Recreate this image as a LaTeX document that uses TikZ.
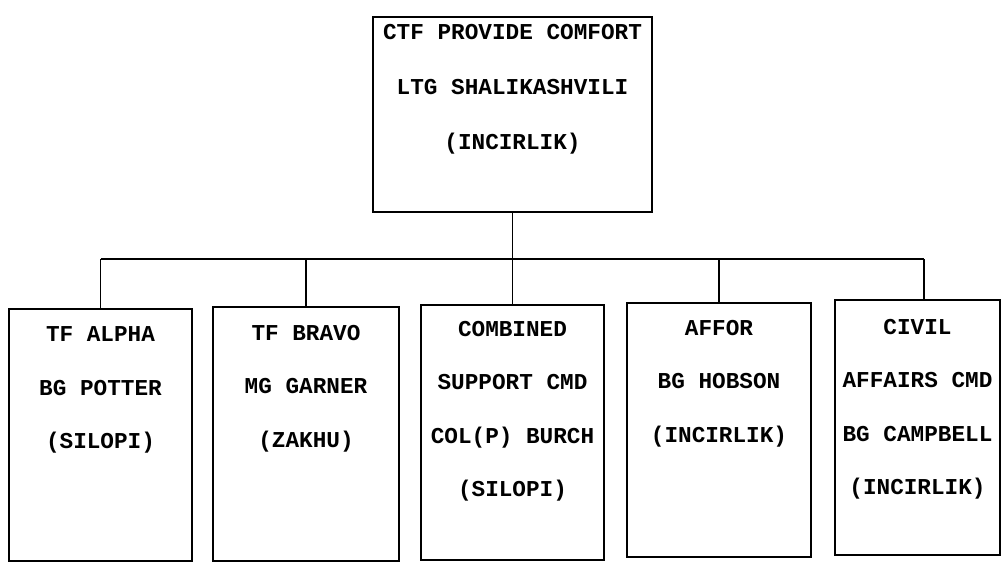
\documentclass[tikz,border=0pt]{standalone}
\usepackage{fontspec}
\newfontfamily\chartfont{Liberation Mono}
\usetikzlibrary{positioning}

\tikzset{
  unit/.style={draw, line width=2.4pt, inner sep=0pt},
  unittext/.style={font=\chartfont\bfseries\fontsize{22.7}{53.5}\selectfont, align=center, anchor=north, inner sep=0pt},
  link/.style={line width=1.5pt}
}

\begin{document}
\begin{tikzpicture}[x=1pt,y=-1pt]
\useasboundingbox (0,0) rectangle (1005,562);

% Commander
\node[unit, minimum width=279pt, minimum height=195pt] (ctf) at (512.5,114.5) {};
\node[unittext, font=\chartfont\bfseries\fontsize{22.7}{55}\selectfont, below=8pt of ctf.north] (ctftext) {CTF PROVIDE COMFORT\\LTG SHALIKASHVILI\\(INCIRLIK)};

% Subordinate commands
\node[unit, minimum width=183pt, minimum height=252pt] (alpha) at (100.5,435) {};
\node[unittext, below=19pt of alpha.north] (alphatext) {TF ALPHA\\BG POTTER\\(SILOPI)};

\node[unit, minimum width=186pt, minimum height=254pt] (bravo) at (306,434) {};
\node[unittext, below=19pt of bravo.north] (bravotext) {TF BRAVO\\MG GARNER\\(ZAKHU)};

\node[unit, minimum width=183pt, minimum height=255pt] (supp) at (512.5,432.5) {};
\node[unittext, below=17pt of supp.north] (supptext) {COMBINED\\SUPPORT CMD\\COL(P) BURCH\\(SILOPI)};

\node[unit, minimum width=184pt, minimum height=254pt] (affor) at (719,430) {};
\node[unittext, below=18pt of affor.north] (affortext) {AFFOR\\BG HOBSON\\(INCIRLIK)};

\node[unit, minimum width=165pt, minimum height=255pt] (civil) at (917.5,427.5) {};
\node[unittext, below=20pt of civil.north] (civiltext) {CIVIL\\AFFAIRS CMD\\BG CAMPBELL\\(INCIRLIK)};

% Bus
\coordinate (busR) at (924,259);
\draw[link] (alpha.north |- busR) -- (busR);
\draw[link] (ctf.south) -- (supp.north);
\draw[link] (alpha.north |- busR) -- (alpha.north);
\draw[link] (bravo.north |- busR) -- (bravo.north);
\draw[link] (affor.north |- busR) -- (affor.north);
\draw[link] (busR) -- (busR |- civil.north);

\end{tikzpicture}
\end{document}
